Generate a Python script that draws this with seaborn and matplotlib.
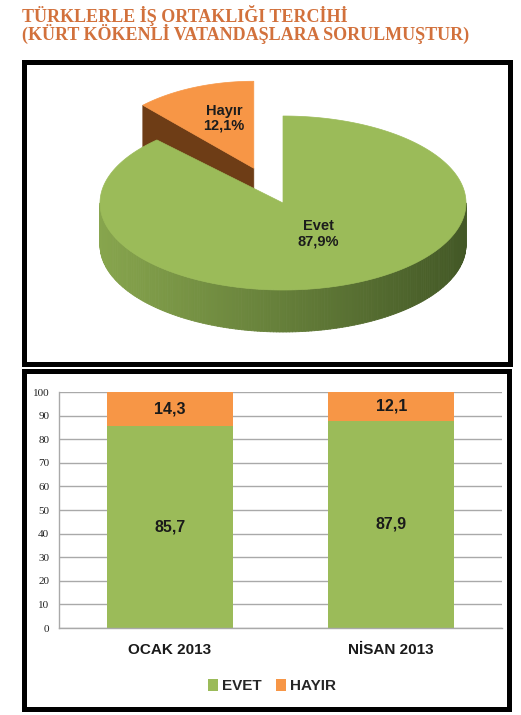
import numpy as np
import pandas as pd
import matplotlib
matplotlib.use("Agg")
import matplotlib.pyplot as plt
from matplotlib.patches import Polygon, Rectangle
from matplotlib.collections import PolyCollection
from matplotlib.colors import to_rgb
import seaborn as sns

title_lines = ["TÜRKLERLE İŞ ORTAKLIĞI TERCİHİ",
               "(KÜRT KÖKENLİ VATANDAŞLARA SORULMUŞTUR)"]
pie_labels = ["Evet", "Hayır"]
pie_values = [87.9, 12.1]
periods = ["OCAK 2013", "NİSAN 2013"]
evet = [85.7, 87.9]
hayir = [14.3, 12.1]
legend_labels = ["EVET", "HAYIR"]

GREEN = "#9bbb59"
ORANGE = "#f79646"
BROWN = "#6e3d16"
TITLE_COLOR = "#d2713c"

sns.set_theme(style="white")
plt.rcParams["font.family"] = ["Liberation Sans", "DejaVu Sans"]

fig = plt.figure(figsize=(5.21, 7.15), dpi=100)

# full-figure canvas in pixel units for title, frames and the 3d pie
canvas = fig.add_axes([0, 0, 1, 1])
canvas.set_xlim(0, 521)
canvas.set_ylim(715, 0)
canvas.axis("off")

serif = ["Liberation Serif", "DejaVu Serif"]
canvas.text(22, 15, title_lines[0], family=serif, weight="bold", size=13,
            color=TITLE_COLOR, va="center", ha="left")
canvas.text(22, 34, title_lines[1], family=serif, weight="bold", size=13,
            color=TITLE_COLOR, va="center", ha="left")

canvas.add_patch(Rectangle((23.5, 61.5), 486, 302, fill=False, lw=3.6, ec="black"))
canvas.add_patch(Rectangle((23.5, 370.5), 485, 338, fill=False, lw=3.6, ec="black"))

# ---- 3d pie (angles come from the data) ----
cx, cy, rx, ry, depth = 283, 203, 183, 87, 42
fracs = np.array(pie_values) / sum(pie_values)
h_start = 90.0
h_end = h_start + fracs[1] * 360
e_start, e_end = h_end, h_start + 360


def arc(t0, t1, ox, oy, n=120, sx=rx, sy=ry):
    t = np.radians(np.linspace(t0, t1, n))
    return np.column_stack([ox + sx * np.cos(t), oy - sy * np.sin(t)])


# exploded Hayır slice (a bit smaller, it sits further back)
explode = 0.43
mid = np.radians((h_start + h_end) / 2)
ox = cx + explode * rx * np.cos(mid)
oy = cy - explode * ry * np.sin(mid)
hx, hy = rx * 0.88, ry
edge = arc(h_end, h_end, ox, oy, 1, hx, hy)[0]
wall = [(ox, oy), tuple(edge), (edge[0], edge[1] + depth), (ox, oy + depth)]
canvas.add_patch(Polygon(wall, closed=True, fc=BROWN, ec=BROWN, lw=0.5))
top_h = np.vstack([[ox, oy], arc(h_start, h_end, ox, oy, 120, hx, hy)])
canvas.add_patch(Polygon(top_h, closed=True, fc=ORANGE, ec=ORANGE, lw=0.5))
canvas.text(ox - 0.5 * hx * abs(np.cos(mid)), oy - 0.62 * hy * np.sin(mid),
            f"{pie_labels[1]}\n{pie_values[1]:.1f}%".replace(".", ","),
            ha="center", va="center", size=10.5, weight="bold", color="#1c1c1c",
            linespacing=1.1)

# Evet slice: front side wall with gradient, then top face
pts = arc(180, 360, cx, cy, 181)
quads = []
cols = []
c_left = np.array(to_rgb("#87a54d"))
c_right = np.array(to_rgb("#435826"))
for i in range(len(pts) - 1):
    a, b = pts[i], pts[i + 1]
    quads.append([a, b, (b[0], b[1] + depth), (a[0], a[1] + depth)])
    s = (a[0] - (cx - rx)) / (2 * rx)
    cols.append(c_left * (1 - s) + c_right * s)
canvas.add_collection(PolyCollection(quads, facecolors=cols, edgecolors=cols, lw=0.6))
top_e = np.vstack([[cx, cy], arc(e_start, e_end, cx, cy, 360)])
canvas.add_patch(Polygon(top_e, closed=True, fc=GREEN, ec=GREEN, lw=0.5))
mid_e = np.radians((e_start + e_end) / 2)
canvas.text(cx + 0.52 * rx * np.cos(mid_e), cy - 0.38 * ry * np.sin(mid_e),
            f"{pie_labels[0]}\n{pie_values[0]:.1f}%".replace(".", ","),
            ha="center", va="center", size=10.5, weight="bold", color="#1c1c1c",
            linespacing=1.1)

# ---- stacked bar chart ----
df = pd.DataFrame({"period": periods, "evet": evet, "hayir": hayir})
df["total"] = df["evet"] + df["hayir"]

ax = fig.add_axes([59 / 521, 1 - 628 / 715, (502 - 59) / 521, (628 - 392) / 715])
sns.barplot(data=df, x="period", y="total", color=ORANGE, width=0.57,
            saturation=1, linewidth=0, ax=ax)
sns.barplot(data=df, x="period", y="evet", color=GREEN, width=0.57,
            saturation=1, linewidth=0, ax=ax)
ax.set_xlim(-0.5, 1.5)
ax.set_ylim(0, 100)
ax.set_yticks(range(0, 101, 10))
ax.set_axisbelow(True)
ax.yaxis.grid(True, color="#a9a9a9", lw=1)
ax.set_xlabel("")
ax.set_ylabel("")
for side in ["top", "right"]:
    ax.spines[side].set_visible(False)
for side in ["left", "bottom"]:
    ax.spines[side].set_color("#a9a9a9")
    ax.spines[side].set_linewidth(1)
ax.tick_params(axis="y", length=0, pad=7, labelsize=8, labelcolor="#222222")
ax.tick_params(axis="x", length=0, pad=11, labelsize=11, labelcolor="#1a1a1a")
for lab in ax.get_yticklabels():
    lab.set_family(serif)
for lab in ax.get_xticklabels():
    lab.set_weight("bold")

for i in range(len(periods)):
    ax.text(i, evet[i] / 2, f"{evet[i]:.1f}".replace(".", ","), ha="center",
            va="center", size=11.5, weight="bold", color="#1a1a1a")
    ax.text(i, evet[i] + hayir[i] / 2, f"{hayir[i]:.1f}".replace(".", ","),
            ha="center", va="center", size=11.5, weight="bold", color="#1a1a1a")

fig.legend([ax.containers[1], ax.containers[0]], legend_labels, loc="center",
           bbox_to_anchor=(272 / 521, 1 - 686 / 715), ncol=2, frameon=False,
           handlelength=0.7, handleheight=0.9, handletextpad=0.25,
           columnspacing=0.9, prop={"size": 11, "weight": "bold"})

fig.savefig("out.png", dpi=100, facecolor="white")
